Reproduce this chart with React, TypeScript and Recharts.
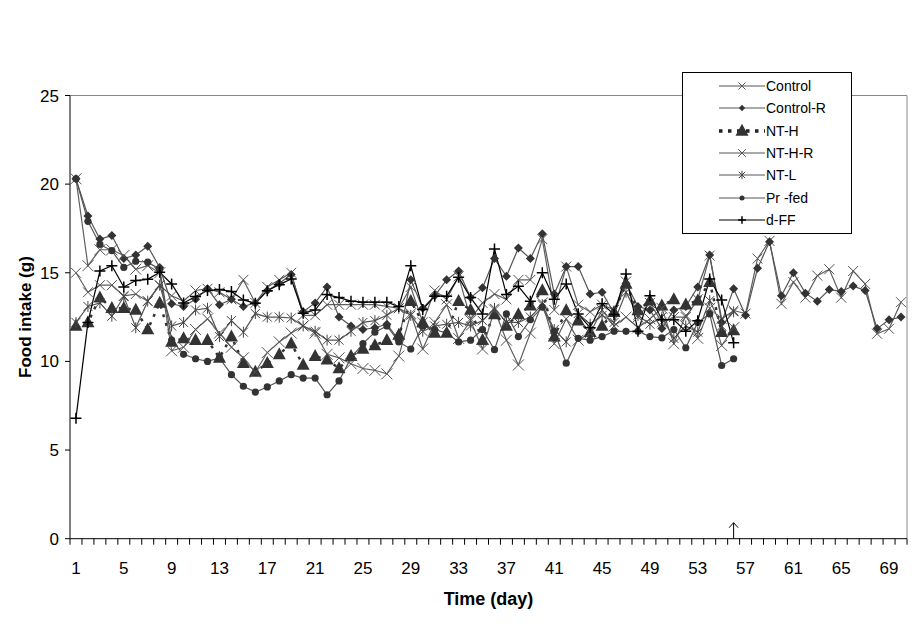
import React from "react";
import { LineChart, Line, XAxis, YAxis, Legend, ReferenceLine, ReferenceDot } from "recharts";

const font = '"Liberation Sans", Arial, sans-serif';

const days = Array.from({ length: 70 }, (_, i) => i + 1);
const dayLabels = [1, 5, 9, 13, 17, 21, 25, 29, 33, 37, 41, 45, 49, 53, 57, 61, 65, 69];
const dayEdges = Array.from({ length: 71 }, (_, i) => i + 0.5);
const yTicks = [0, 5, 10, 15, 20, 25];

// food intake (g) per day
const control = [
  15.0, 13.9, 14.3, 14.3, 13.7, 13.8, 13.4, 14.3, 13.7, 13.4, 14.0, 14.1,
  13.9, 13.5, 14.6, 13.3, 14.2, 14.6, 15.0, 12.6, 12.6, 13.2, 13.2, 13.2,
  13.2, 13.2, 13.1, 13.0, 14.2, 12.2, 14.0, 13.5, 14.8, 12.4, 13.3, 13.8,
  13.5, 14.6, 14.6, 16.9, 12.9, 15.35, 13.2, 12.8, 13.2, 12.9, 14.5, 12.5,
  13.3, 12.2, 12.5, 12.5, 13.5, 15.97, 12.4, 12.87, 12.7, 15.8, 16.8, 13.25,
  14.47, 13.6, 14.84, 15.2, 13.6, 15.1, 14.37, 11.56, 11.84, 13.34,
];
const controlR = [
  20.3, 18.2, 16.9, 17.1, 15.8, 16.0, 16.5, 15.3, 13.25, 13.1, 13.5, 14.1,
  13.2, 13.5, 13.1, 13.3, 14.0, 14.4, 14.9, 12.8, 13.3, 14.2, 12.5, 12.0,
  11.8, 11.9, 12.1, 11.2, 14.6, 13.0, 13.7, 14.6, 15.1, 13.6, 14.15, 15.8,
  14.8, 16.4, 15.8, 17.2, 13.8, 15.35, 15.35, 13.8, 13.9, 12.7, 14.4, 13.1,
  12.9, 11.85, 12.9, 13.1, 14.2, 16.0, 12.2, 14.1, 12.6, 15.25, 16.75, 13.7,
  15.0, 13.85, 13.4, 14.05, 13.95, 14.25, 14.0, 11.85, 12.35, 12.5,
];
const ntH = [
  12.0, 12.2, 13.6, 13.0, 13.0, 12.9, 11.8, 13.3, 11.1, 11.3, 11.2, 11.2,
  10.2, 11.4, 9.9, 9.4, 9.9, 10.4, 11.0, 9.8, 10.3, 10.1, 9.6, 10.3,
  10.7, 10.9, 11.2, 11.5, 13.4, 12.2, 11.6, 11.6, 13.4, 12.9, 11.2, 12.65,
  12.0, 12.65, 13.15, 14.0, 11.4, 12.87, 12.3, 11.65, 12.0, 12.78, 14.37, 12.87,
  13.43, 13.15, 13.5, 13.2, 13.43, 14.47, 11.65, 11.74,
];
const ntHR = [
  20.3, 15.4, 16.3, 16.3, 15.97, 15.2, 15.4, 15.0, 10.6, 10.8, 11.8, 12.4,
  11.6, 10.8, 10.2, 9.4, 10.5, 11.1, 11.6, 12.0, 11.6, 10.4, 10.2, 9.87,
  9.6, 9.5, 9.3, 10.3, 12.7, 10.7, 12.2, 13.2, 11.3, 12.3, 10.7, 12.9,
  11.2, 9.8, 11.6, 13.3, 11.0, 12.4, 11.2, 11.6, 12.9, 12.0, 12.5, 11.9,
  12.4, 13.0, 11.0, 12.6, 11.3, 13.0, 10.9, 11.9,
];
const ntL = [
  12.2, 13.1, 13.3, 12.55, 13.66, 11.9, 13.4, 14.3, 12.0, 12.2, 12.9, 13.0,
  11.4, 12.3, 11.65, 12.7, 12.5, 12.5, 12.45, 12.0, 11.7, 11.2, 11.2, 11.7,
  12.2, 12.3, 12.6, 13.0, 12.6, 11.7, 12.0, 12.1, 12.2, 12.0, 12.3, 13.0,
  12.2, 12.2, 12.5, 13.2, 11.8, 11.1, 12.7, 12.1, 12.6, 12.2, 13.9, 12.6,
  12.1, 12.5, 11.3, 12.0, 11.65, 13.43, 12.0, 12.8,
];
const prFed = [
  20.3, 17.9, 16.6, 16.25, 15.3, 15.65, 15.6, 15.2, 11.2, 10.4, 10.15, 10.0,
  10.2, 9.25, 8.6, 8.27, 8.56, 8.9, 9.25, 9.06, 9.06, 8.12, 8.9, 10.2,
  11.0, 11.65, 12.0, 11.1, 10.7, 12.0, 11.8, 11.6, 11.1, 11.2, 11.8, 10.66,
  12.68, 11.4, 12.35, 13.06, 11.7, 9.9, 11.3, 11.2, 11.4, 11.7, 11.7, 11.7,
  11.4, 11.33, 11.8, 10.77, 12.2, 12.68, 9.77, 10.15,
];
const dFF = [
  6.8, 12.2, 15.1, 15.4, 14.2, 14.56, 14.63, 15.03, 14.37, 13.3, 13.66, 14.0,
  14.05, 13.95, 13.47, 13.28, 13.99, 14.33, 14.65, 12.72, 12.9, 13.77, 13.6, 13.4,
  13.34, 13.34, 13.34, 13.1, 15.4, 12.93, 13.68, 13.68, 14.75, 13.6, 12.68, 16.34,
  13.77, 14.24, 13.4, 15.0, 13.5, 14.37, 12.68, 11.9, 13.25, 12.65, 14.93, 11.7,
  13.7, 12.35, 12.35, 11.7, 12.3, 14.65, 13.47, 11.05,
];

const data = days.map((day, i) => ({
  day,
  control: control[i],
  controlR: controlR[i],
  ntH: ntH[i],
  ntHR: ntHR[i],
  ntL: ntL[i],
  prFed: prFed[i],
  dFF: dFF[i],
}));

const series = [
  { key: "control", name: "Control", marker: "x", stroke: "#5f5f5f" },
  { key: "controlR", name: "Control-R", marker: "diamond", stroke: "#555" },
  { key: "ntH", name: "NT-H", marker: "triangle", stroke: "#333", dash: true },
  { key: "ntHR", name: "NT-H-R", marker: "bigx", stroke: "#5f5f5f" },
  { key: "ntL", name: "NT-L", marker: "star", stroke: "#555" },
  { key: "prFed", name: "Pr -fed", marker: "circle", stroke: "#555" },
  { key: "dFF", name: "d-FF", marker: "plus", stroke: "#000" },
];

// plot is 837px wide for 70 days; labels sit in the middle of each day slot
const halfDay = 837 / 70 / 2;

function DayTick(props: any) {
  const d = props.payload.value + 0.5;
  if (!dayLabels.includes(d)) return <g />;
  return (
    <text
      x={props.x + halfDay}
      y={props.y}
      dy="0.71em"
      textAnchor="middle"
      fill="#000"
      fontSize={17}
      fontFamily={font}
    >
      {d}
    </text>
  );
}

function drawMarker(kind: string, cx: number, cy: number, small = false) {
  const k = small ? 0.7 : 1;
  if (kind === "x" || kind === "bigx") {
    const s = (kind === "x" ? 5 : 5.5) * k;
    return (
      <path
        d={`M${cx - s},${cy - s}L${cx + s},${cy + s}M${cx - s},${cy + s}L${cx + s},${cy - s}`}
        stroke="#555"
        strokeWidth={1}
        fill="none"
      />
    );
  }
  if (kind === "diamond") {
    const s = 4.5 * k;
    return <path d={`M${cx},${cy - s}L${cx + s},${cy}L${cx},${cy + s}L${cx - s},${cy}Z`} fill="#333" />;
  }
  if (kind === "triangle") {
    const w = 6.5 * k;
    const h = 12 * k;
    return <path d={`M${cx},${cy - h * 0.6}L${cx + w},${cy + h * 0.4}L${cx - w},${cy + h * 0.4}Z`} fill="#333" />;
  }
  if (kind === "star") {
    const s = 4.5 * k;
    return (
      <path
        d={`M${cx - s},${cy - s}L${cx + s},${cy + s}M${cx - s},${cy + s}L${cx + s},${cy - s}M${cx},${cy - s - 1}L${cx},${cy + s + 1}`}
        stroke="#444"
        strokeWidth={1}
        fill="none"
      />
    );
  }
  if (kind === "circle") {
    return <circle cx={cx} cy={cy} r={3.6 * k} fill="#333" />;
  }
  const s = 5.5 * k;
  return (
    <path
      d={`M${cx - s},${cy}L${cx + s},${cy}M${cx},${cy - s}L${cx},${cy + s}`}
      stroke="#000"
      strokeWidth={1.5}
      fill="none"
    />
  );
}

function LegendBox(props: any) {
  const payload = props.payload || [];
  return (
    <div
      style={{
        border: "1px solid #000",
        background: "#fff",
        width: 168,
        padding: "2px 0",
        fontFamily: font,
        fontSize: 14,
        color: "#000",
      }}
    >
      {payload.map((entry: any) => {
        const s = series.find((x) => x.key === entry.dataKey) || series[0];
        return (
          <div key={s.key} style={{ display: "flex", alignItems: "center", height: 22.3 }}>
            <svg width={83} height={22} style={{ display: "block" }}>
              <line
                x1={36}
                x2={82}
                y1={11}
                y2={11}
                stroke={s.key === "dFF" ? "#000" : s.dash ? "#222" : "#555"}
                strokeWidth={s.dash ? 3.5 : 1}
                strokeDasharray={s.dash ? "3.5 5.5" : undefined}
              />
              {drawMarker(s.marker, 59, 11, s.marker !== "triangle")}
            </svg>
            <span>{entry.value}</span>
          </div>
        );
      })}
    </div>
  );
}

export default function App() {
  return (
    <div style={{ position: "absolute", left: 0, top: 0, background: "#fff" }}>
      <LineChart
        width={915}
        height={625}
        data={data}
        margin={{ top: 95.5, right: 8, left: 10, bottom: 6.3 }}
        style={{ fontFamily: font }}
      >
        <XAxis
          xAxisId="day"
          dataKey="day"
          type="number"
          domain={[0.5, 70.5]}
          ticks={dayEdges}
          interval={0}
          height={80}
          tickSize={6}
          tickMargin={17}
          tickLine={{ stroke: "#000" }}
          axisLine={{ stroke: "#000" }}
          tick={DayTick}
          label={{
            value: "Time (day)",
            position: "insideBottom",
            offset: 14,
            style: { fontWeight: "bold", fontSize: 18, fill: "#000", fontFamily: font },
          }}
        />
        <YAxis
          domain={[0, 25]}
          ticks={yTicks}
          interval={0}
          width={60}
          tickSize={5}
          tickMargin={6}
          axisLine={{ stroke: "#000" }}
          tickLine={{ stroke: "#000" }}
          tick={{ fill: "#000", fontSize: 17, fontFamily: font }}
          label={{
            value: "Food intake (g)",
            angle: -90,
            position: "insideLeft",
            offset: 15,
            style: { textAnchor: "middle", fontWeight: "bold", fontSize: 17, fill: "#000", fontFamily: font },
          }}
        />
        <ReferenceLine xAxisId="day" y={25} stroke="#888" />
        <ReferenceLine xAxisId="day" x={70.5} stroke="#888" />
        {series.map((s) => (
          <Line
            key={s.key}
            xAxisId="day"
            dataKey={s.key}
            name={s.name}
            stroke={s.stroke}
            strokeWidth={s.dash ? 2.5 : 1.2}
            strokeDasharray={s.dash ? "3 6" : undefined}
            isAnimationActive={false}
            dot={(p: any) =>
              p.cy == null || p.value == null ? (
                <g key={p.index} />
              ) : (
                <g key={p.index}>{drawMarker(s.marker, p.cx, p.cy)}</g>
              )
            }
            activeDot={false}
          />
        ))}
        <ReferenceDot
          xAxisId="day"
          x={56}
          y={0}
          shape={(p: any) => (
            <path
              d={`M${p.cx},${p.cy}V${p.cy - 16}M${p.cx - 4.5},${p.cy - 11}L${p.cx},${p.cy - 16}L${p.cx + 4.5},${p.cy - 11}`}
              stroke="#000"
              strokeWidth={1}
              fill="none"
            />
          )}
        />
        <Legend
          layout="horizontal"
          verticalAlign="middle"
          align="center"
          content={LegendBox}
          wrapperStyle={{ left: 682, top: 72, width: 170, height: "auto" }}
        />
      </LineChart>
    </div>
  );
}
